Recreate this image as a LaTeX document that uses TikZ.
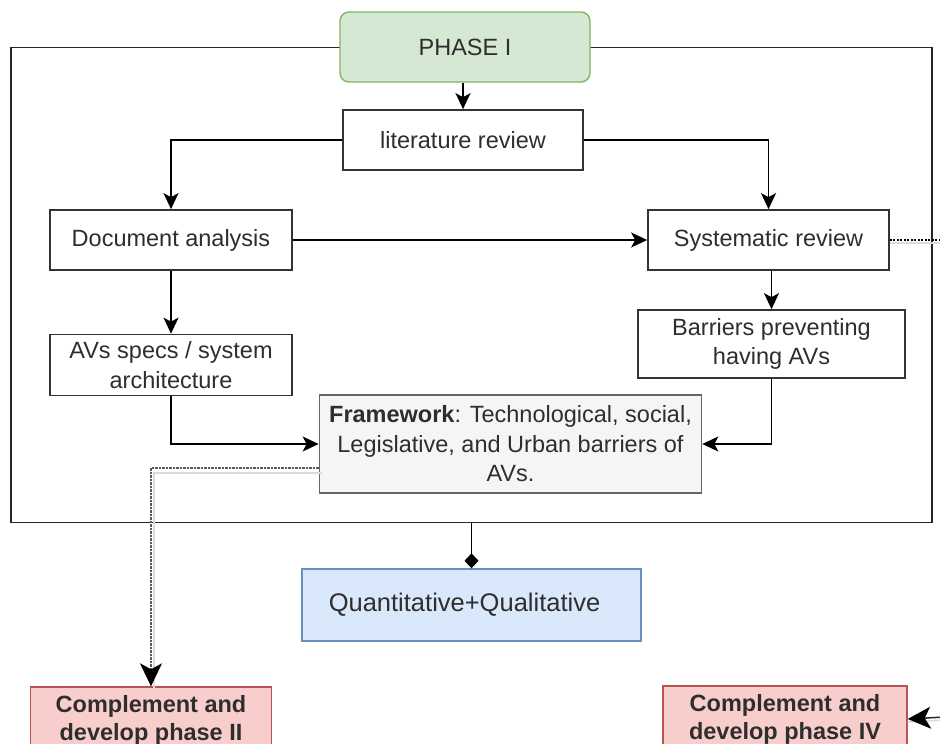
\documentclass[tikz,border=0pt]{standalone}
\usepackage{fontspec}
\setmainfont{Liberation Sans}
\usetikzlibrary{arrows.meta}

\definecolor{greenfill}{HTML}{D5E8D4}
\definecolor{greenline}{HTML}{82B366}
\definecolor{bluefill}{HTML}{DAE8FC}
\definecolor{blueline}{HTML}{6C8EBF}
\definecolor{redfill}{HTML}{F8CECC}
\definecolor{redline}{HTML}{B85450}
\definecolor{grayfill}{HTML}{F5F5F5}
\definecolor{grayline}{HTML}{666666}

\tikzset{
  every node/.style={font=\fontsize{23.5}{29.5}\selectfont, text=black!82, inner sep=0pt, align=center},
  stepbox/.style={draw=black!80, line width=1.7pt, fill=white},
  phasebox/.style={draw=greenline, fill=greenfill, line width=1.4pt, rounded corners=9pt},
  framebox/.style={draw=grayline, fill=grayfill, line width=1.7pt},
  methodbox/.style={draw=blueline, fill=bluefill, line width=1.4pt},
  nextbox/.style={draw=redline, fill=redfill, line width=1.4pt},
  link/.style={draw=black, line width=1.6pt, -{Stealth[length=16pt,width=15pt,inset=4pt]}},
  biglink/.style={line width=1.5pt, -{Stealth[length=23pt,width=22pt,inset=6pt,black]}},
  shadowed/.style={preaction={draw=black!14, -, line width=1.6pt,
      transform canvas={shift={(#1)}}}},
}

\begin{document}
\begin{tikzpicture}[x=1pt, y=-1pt]
  \useasboundingbox (0,0) rectangle (940,744);
  \clip (0,0) rectangle (940,744);
  \fill[white] (0,0) rectangle (940,744);

  % outer frame of phase I
  \node[draw=black!85, line width=1.7pt, minimum width=921pt, minimum height=475pt] (phaseframe) at (471.5,285) {};

  % boxes
  \node[phasebox, minimum width=250pt, minimum height=70pt] (phase) at (465,47) {PHASE I};
  \node[stepbox, minimum width=240pt, minimum height=60pt] (lit) at (463,140) {literature review};
  \node[stepbox, minimum width=242pt, minimum height=60pt] (doc) at (171,240) {Document analysis};
  \node[stepbox, minimum width=241pt, minimum height=60pt] (sys) at (768.5,240) {Systematic review};
  \node[stepbox, minimum width=242pt, minimum height=61pt] (specs) at (171,365) {AVs specs / system\\architecture};
  \node[stepbox, minimum width=267pt, minimum height=68pt] (barr) at (771.5,344) {Barriers preventing\\having AVs};
  \node[framebox, minimum width=382pt, minimum height=98pt] (frm) at (510.5,444) {\textbf{Framework}: Technological, social,\\Legislative, and Urban barriers of\\AVs.};
  \node[methodbox, minimum width=339pt, minimum height=72pt, font=\fontsize{25.5}{30}\selectfont] (quant) at (471.5,605) {Quantitative+Qualitative\hspace{14pt}};
  \node[nextbox, minimum width=241pt, minimum height=66pt, font=\bfseries\fontsize{23.5}{28}\selectfont] (comp2) at (151,720) {Complement and\\develop phase II};
  \node[nextbox, minimum width=244pt, minimum height=66pt, font=\bfseries\fontsize{23.5}{28}\selectfont] (comp4) at (785,719) {Complement and\\develop phase IV};

  % free ends leaving the picture on the right
  \coordinate (sysout) at (945,240);
  \coordinate (comp4in) at (945,717);

  % connectors
  \draw[link] (phase.south -| lit.north) -- (lit.north);
  \draw[link] (lit.west) -| (doc.north);
  \draw[link] (lit.east) -| (sys.north);
  \draw[link] (doc.east) -- (sys.west);
  \draw[link] (doc.south) -- (specs.north);
  \draw[link] (sys.south -| barr.north) -- (barr.north);
  \draw[link] (specs.south) |- (frm.west);
  \draw[link] (barr.south) |- (frm.east);
  \draw[draw=black, line width=1.6pt, -{Diamond[length=15pt,width=14pt]}] (phaseframe.south) -- (quant.north);

  % links towards the following phases
  \draw[shadowed={3pt,-5pt}, biglink, draw=black!65, dash pattern=on 2.5pt off 1pt]
    ([yshift=-24pt]frm.west) -| (comp2.north);
  \draw[shadowed={0pt,-3pt}, draw=black, line width=1.4pt, dash pattern=on 2pt off 1.5pt]
    (sys.east) -- (sysout);
  \draw[shadowed={0pt,-3pt}, biglink, draw=black!85] (comp4in) -- (comp4.east);
\end{tikzpicture}
\end{document}
